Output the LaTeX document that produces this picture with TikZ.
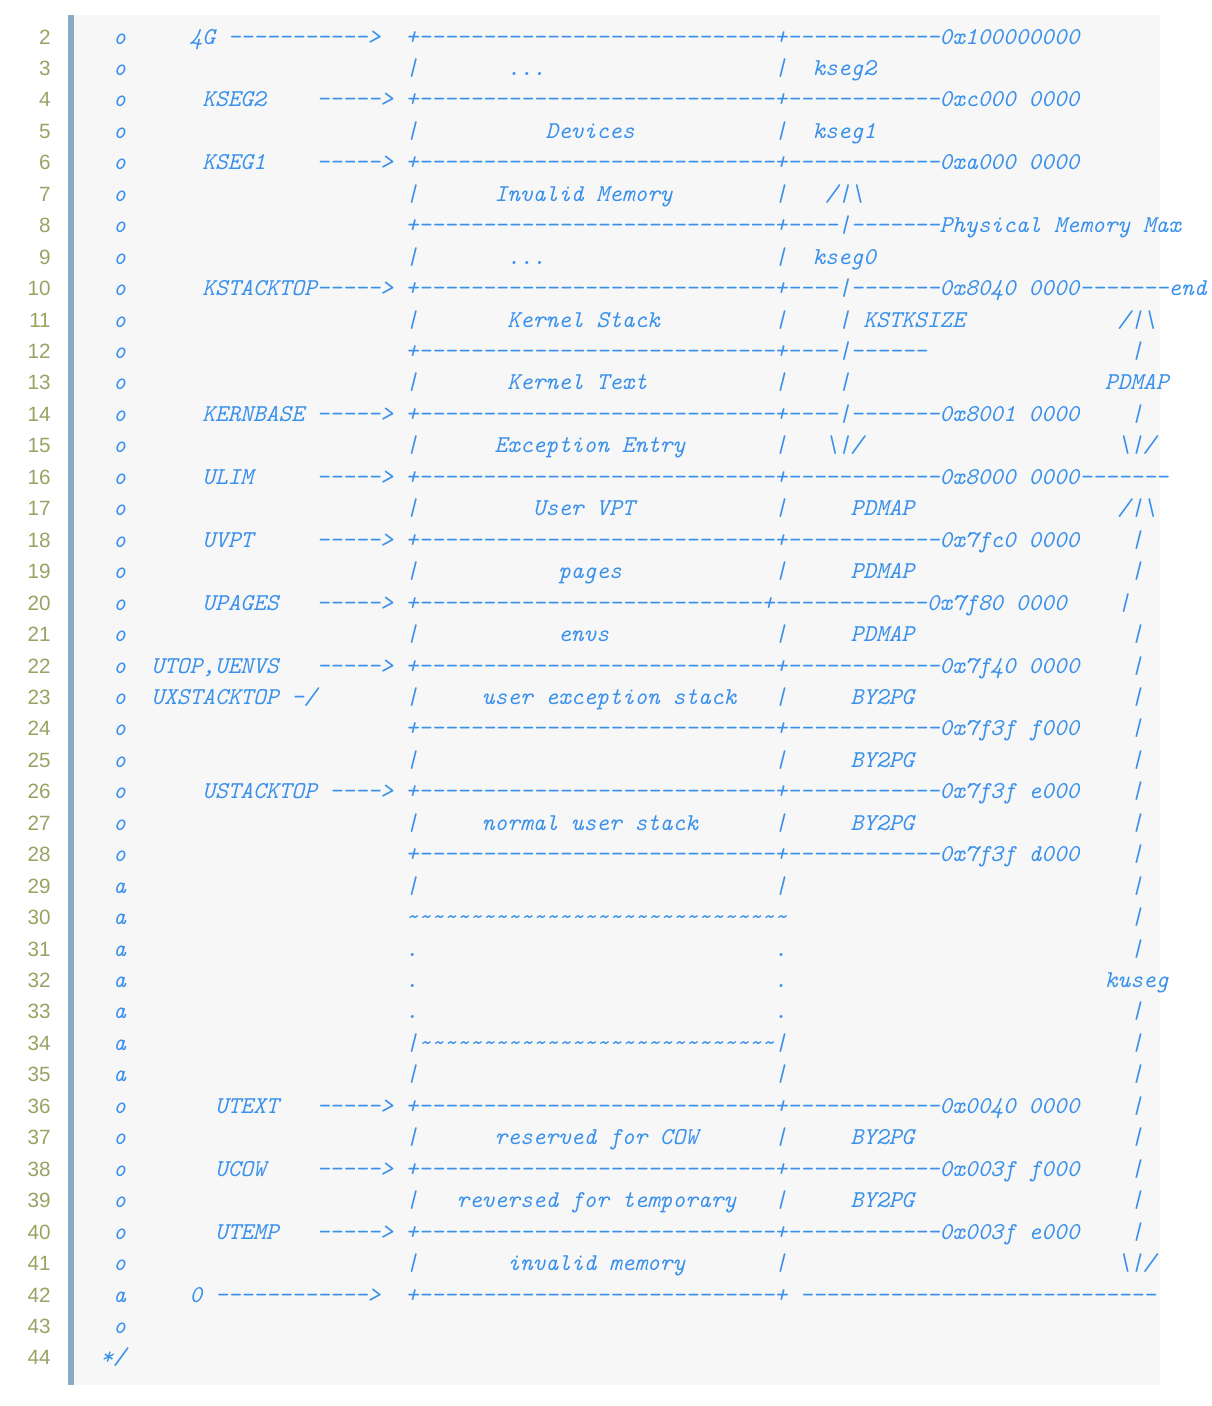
\documentclass[tikz,border=0pt]{standalone}
\usepackage{fontspec}
\newfontfamily\numfont{Liberation Sans}
\definecolor{CodeBlue}{RGB}{58,145,235}
\definecolor{NumOlive}{RGB}{152,163,98}
\definecolor{BarBlue}{RGB}{138,172,194}
\definecolor{PanelGray}{RGB}{247,247,247}
\newlength\cw
\newcommand\codefont{\ttfamily\itshape\fontsize{18.16pt}{22pt}\selectfont\frenchspacing}
\newcommand\gap[1]{\hspace*{#1\cw}}
\newcommand\rep[2]{\foreach\repi in {1,...,#1}{#2}}
\newcommand\bsl{\textbackslash}
\tikzset{
	code/.style={anchor=base west,inner sep=0pt,text=CodeBlue,font=\codefont},
	lnum/.style={anchor=base east,inner sep=0pt,text=NumOlive,font=\numfont\fontsize{15.5pt}{18pt}\selectfont}
}
% one listing line: number and text on the same baseline
\newcommand\codeline[2]{%
	\node[lnum] (n#1) at (51,{44+(#1-2)*31.45}) {#1};
	\node[code] (r#1) at (113.1,{44+(#1-2)*31.45}) {#2};}

\begin{document}
\settowidth\cw{\codefont 0}
\begin{tikzpicture}[x=0.75pt,y=-0.75pt]
\useasboundingbox (0,0) rectangle (1212,1406);
\fill[PanelGray] (74,15) rectangle (1160,1385);
\fill[BarBlue] (68,15) rectangle (74,1385);
\codeline{2}{o\gap{5}4G \rep{11}{-}>\gap{2}+\rep{28}{-}+\rep{12}{-}0x100000000}
\codeline{3}{o\gap{22}|\gap{7}...\gap{18}|\gap{2}kseg2}
\codeline{4}{o\gap{6}KSEG2\gap{4}\rep{5}{-}> +\rep{28}{-}+\rep{12}{-}0xc000 0000}
\codeline{5}{o\gap{22}|\gap{10}Devices\gap{11}|\gap{2}kseg1}
\codeline{6}{o\gap{6}KSEG1\gap{4}\rep{5}{-}> +\rep{28}{-}+\rep{12}{-}0xa000 0000}
\codeline{7}{o\gap{22}|\gap{6}Invalid Memory\gap{8}|\gap{3}/|\bsl}
\codeline{8}{o\gap{22}+\rep{28}{-}+\rep{4}{-}|\rep{7}{-}Physical Memory Max}
\codeline{9}{o\gap{22}|\gap{7}...\gap{18}|\gap{2}kseg0}
\codeline{10}{o\gap{6}KSTACKTOP\rep{5}{-}> +\rep{28}{-}+\rep{4}{-}|\rep{7}{-}0x8040 0000\rep{7}{-}end}
\codeline{11}{o\gap{22}|\gap{7}Kernel Stack\gap{9}|\gap{4}| KSTKSIZE\gap{12}/|\bsl}
\codeline{12}{o\gap{22}+\rep{28}{-}+\rep{4}{-}|\rep{6}{-}\gap{16}|}
\codeline{13}{o\gap{22}|\gap{7}Kernel Text\gap{10}|\gap{4}|\gap{20}PDMAP}
\codeline{14}{o\gap{6}KERNBASE \rep{5}{-}> +\rep{28}{-}+\rep{4}{-}|\rep{7}{-}0x8001 0000\gap{4}|}
\codeline{15}{o\gap{22}|\gap{6}Exception Entry\gap{7}|\gap{3}\bsl|/\gap{20}\bsl|/}
\codeline{16}{o\gap{6}ULIM\gap{5}\rep{5}{-}> +\rep{28}{-}+\rep{12}{-}0x8000 0000\rep{7}{-}}
\codeline{17}{o\gap{22}|\gap{9}User VPT\gap{11}|\gap{5}PDMAP\gap{16}/|\bsl}
\codeline{18}{o\gap{6}UVPT\gap{5}\rep{5}{-}> +\rep{28}{-}+\rep{12}{-}0x7fc0 0000\gap{4}|}
\codeline{19}{o\gap{22}|\gap{11}pages\gap{12}|\gap{5}PDMAP\gap{17}|}
\codeline{20}{o\gap{6}UPAGES\gap{3}\rep{5}{-}> +\rep{27}{-}+\rep{12}{-}0x7f80 0000\gap{4}|}
\codeline{21}{o\gap{22}|\gap{11}envs\gap{13}|\gap{5}PDMAP\gap{17}|}
\codeline{22}{o\gap{2}UTOP,UENVS\gap{3}\rep{5}{-}> +\rep{28}{-}+\rep{12}{-}0x7f40 0000\gap{4}|}
\codeline{23}{o\gap{2}UXSTACKTOP -/\gap{7}|\gap{5}user exception stack\gap{3}|\gap{5}BY2PG\gap{17}|}
\codeline{24}{o\gap{22}+\rep{28}{-}+\rep{12}{-}0x7f3f f000\gap{4}|}
\codeline{25}{o\gap{22}|\gap{28}|\gap{5}BY2PG\gap{17}|}
\codeline{26}{o\gap{6}USTACKTOP \rep{4}{-}> +\rep{28}{-}+\rep{12}{-}0x7f3f e000\gap{4}|}
\codeline{27}{o\gap{22}|\gap{5}normal user stack\gap{6}|\gap{5}BY2PG\gap{17}|}
\codeline{28}{o\gap{22}+\rep{28}{-}+\rep{12}{-}0x7f3f d000\gap{4}|}
\codeline{29}{a\gap{22}|\gap{28}|\gap{27}|}
\codeline{30}{a\gap{22}\rep{30}{\textasciitilde}\gap{27}|}
\codeline{31}{a\gap{22}.\gap{28}.\gap{27}|}
\codeline{32}{a\gap{22}.\gap{28}.\gap{25}kuseg}
\codeline{33}{a\gap{22}.\gap{28}.\gap{27}|}
\codeline{34}{a\gap{22}|\rep{28}{\textasciitilde}|\gap{27}|}
\codeline{35}{a\gap{22}|\gap{28}|\gap{27}|}
\codeline{36}{o\gap{7}UTEXT\gap{3}\rep{5}{-}> +\rep{28}{-}+\rep{12}{-}0x0040 0000\gap{4}|}
\codeline{37}{o\gap{22}|\gap{6}reserved for COW\gap{6}|\gap{5}BY2PG\gap{17}|}
\codeline{38}{o\gap{7}UCOW\gap{4}\rep{5}{-}> +\rep{28}{-}+\rep{12}{-}0x003f f000\gap{4}|}
\codeline{39}{o\gap{22}|\gap{3}reversed for temporary\gap{3}|\gap{5}BY2PG\gap{17}|}
\codeline{40}{o\gap{7}UTEMP\gap{3}\rep{5}{-}> +\rep{28}{-}+\rep{12}{-}0x003f e000\gap{4}|}
\codeline{41}{o\gap{22}|\gap{7}invalid memory\gap{7}|\gap{26}\bsl|/}
\codeline{42}{a\gap{5}0 \rep{12}{-}>\gap{2}+\rep{28}{-}+ \rep{28}{-}}
\codeline{43}{o}
\node[lnum] (n44) at (51,{44+42*31.45}) {44};
\node[code] (r44) at (100.3,{44+42*31.45}) {*/};
\end{tikzpicture}
\end{document}
